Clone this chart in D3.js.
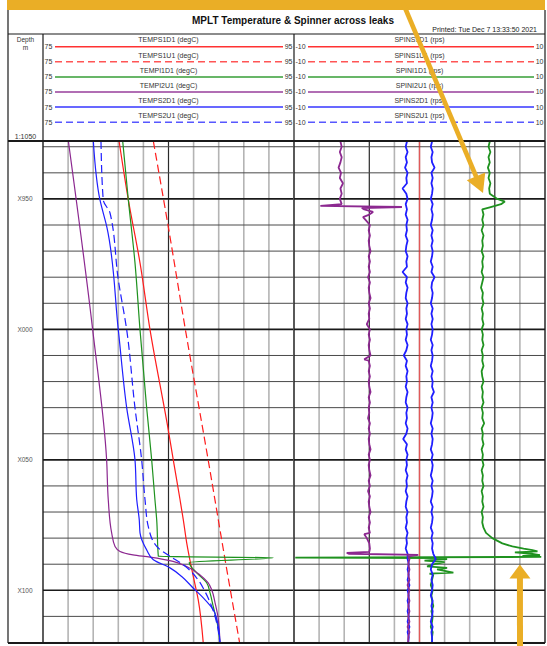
<!DOCTYPE html>
<html>
<head>
<meta charset="utf-8">
<script src="https://cdn.jsdelivr.net/npm/d3@7"></script>
<style>
  body { margin: 0; background: #fff; }
  svg { display: block; font-family: "Liberation Sans", Arial, sans-serif; }
</style>
</head>
<body>
<svg id="chart" width="547" height="646"></svg>
<script>
// ---- values ----
const depthTop = 1927.8;
const depthBottom = 2120.2;
const depthGrid = d3.range(1930, 2121, 10);
const depthLabelValues = [1950, 2000, 2050, 2100];
const depthLabelText = ['X950', 'X000', 'X050', 'X100'];

const tempRange = [75, 95];
const spinRange = [-10, 10];

const tempNames = ['TEMPS1D1', 'TEMPS1U1', 'TEMPI1D1', 'TEMPI2U1', 'TEMPS2D1', 'TEMPS2U1'];
const spinNames = ['SPINS1D1', 'SPINS1U1', 'SPINI1D1', 'SPINI2U1', 'SPINS2D1', 'SPINS2U1'];

// temperature, [depth m, degC]
const tempS1D1 = [[1927.8, 81.06], [1950.4, 81.8], [1974.5, 82.73], [2000.2, 83.53], [2038.5, 84.98],
  [2050, 85.38], [2065.3, 85.92], [2073, 86.18], [2081.8, 86.45], [2094.8, 86.98], [2103.7, 87.37], [2120.2, 87.77]];
const tempS1U1 = [[1927.8, 83.79], [1960.6, 84.98], [2000.2, 86.35], [2050, 88.16], [2090, 89.57], [2120.2, 90.67]];
const tempI1D1 = [[1927.8, 81.35], [1950.4, 81.8], [1974.5, 82.33], [2000.2, 82.73], [2030.1, 83.26], [2050, 83.66],
  [2065.3, 83.92], [2073, 84.06], [2087.0, 84.19], [2087.5, 93.33], [2089.3, 86.65], [2093.3, 87.25],
  [2097.1, 88.04], [2101.0, 88.31], [2106.3, 88.57], [2114.0, 88.94], [2120.2, 89.1]];
const tempI2U1 = [[1927.8, 77.02], [2000.2, 78.96], [2050, 80.07], [2065.3, 80.2], [2078.0, 80.47], [2083.2, 80.74],
  [2085.1, 81.14], [2086.4, 82.17], [2087.3, 83.53], [2088.9, 85.36], [2090.9, 86.45], [2094.1, 87.51],
  [2097.1, 88.15], [2099.8, 88.44], [2104.8, 88.71], [2110.1, 88.94], [2120.2, 89.1]];
const tempS2D1 = [[1927.8, 79.01], [1950.4, 79.54], [1960.6, 80.08], [2000.2, 81.0], [2030.1, 81.67], [2050, 82.33],
  [2065.3, 82.47], [2073, 82.67], [2078, 82.73], [2084.5, 83.26], [2088.3, 83.79], [2091.4, 85.12],
  [2094.7, 86.05], [2099.2, 86.98], [2102.9, 87.77], [2107.5, 88.57], [2113.9, 88.97], [2120.2, 89.1]];
const tempS2U1 = [[1927.8, 79.62], [1950.4, 79.8], [1955.4, 80.34], [1981, 81.0], [2000.2, 81.67], [2030.1, 82.33],
  [2050, 82.86], [2065.3, 83.13], [2075.6, 83.39], [2083.2, 84.06], [2087, 85.12], [2090.2, 86.18],
  [2095.3, 87.25], [2100.5, 87.91], [2106.2, 88.44], [2112.5, 88.84], [2120.2, 89.1]];

// spinner, rps sampled every 2 m from 1928 m, plus extra points where it spikes
const spinDepths = d3.range(1928, 2121, 2);
const spinS1D1 = [[1927.8, 0], [2120.2, 0]];
const spinI1D1Values = [
  5.6, 5.5, 5.65, 5.5, 5.6, 5.45, 5.6, 5.5, 5.65, 5.55,
  5.6, 6.2, 6.5, 5.0, 5.1, 5.0, 5.1, 4.95, 5.1, 5.0,
  5.05, 4.95, 5.1, 5.0, 5.05, 4.95, 5.1, 5.0, 4.9, 5.05,
  5.0, 5.1, 4.95, 5.05, 5.0, 5.1, 4.95, 5.05, 5.0, 5.1,
  4.95, 5.05, 5.0, 5.1, 4.95, 5.0, 5.1, 4.95, 5.05, 5.0,
  5.1, 4.95, 5.05, 5.0, 5.15, 4.95, 5.05, 5.0, 5.1, 4.95,
  5.05, 5.0, 5.1, 4.95, 5.05, 5.0, 5.1, 4.95, 5.05, 5.0,
  5.1, 4.95, 5.05, 5.0, 5.1, 5.3, 5.8, 6.6, 8.3, 9.0,
  2.2, 1.2, 1.4, 1.1, 1.0, 0.9, 1.05, 0.95, 1.0, 1.1,
  0.95, 1.05, 1.0, 0.9, 1.05, 1.0, 1.0];
const spinI1D1Spikes = [[1951, 6.8], [1953.2, 5.6], [2083.2, 7.4], [2084.6, 9.0], [2085.1, 9.4], [2085.5, 7.6],
  [2086.5, 9.6], [2086.8, 8.2], [2087.2, 9.7], [2087.45, -9.9], [2087.7, 1.0], [2088.6, 0.4], [2089.2, 2.0],
  [2090.8, 0.6], [2091.4, 2.2], [2093.2, 2.7], [2093.6, 0.8]];
const spinI2U1Values = [
  -6.3, -6.2, -6.35, -6.2, -6.3, -6.45, -6.25, -6.35, -6.1, -6.3,
  -6.2, -6.35, -6.2, -4.4, -4.0, -4.3, -3.95, -4.05, -3.95, -4.05,
  -4.0, -3.9, -4.05, -3.95, -4.05, -3.95, -4.1, -3.95, -4.05, -4.0,
  -3.9, -4.05, -3.95, -4.05, -4.0, -4.2, -3.95, -4.05, -3.95, -4.05,
  -4.0, -3.9, -4.05, -3.95, -4.05, -3.95, -4.05, -4.0, -3.9, -4.05,
  -3.95, -4.05, -4.0, -4.1, -3.95, -4.05, -3.95, -4.05, -4.0, -3.9,
  -4.05, -3.95, -4.05, -4.0, -3.9, -4.05, -3.95, -4.1, -3.95, -4.05,
  -4.0, -3.9, -4.05, -3.95, -4.05, -3.95, -4.2, -4.0, -3.95, -5.6,
  -0.8, -0.9, -0.8, -0.9, -0.8, -0.95, -0.8, -0.9, -0.8, -0.9,
  -0.8, -0.9, -0.8, -0.95, -0.8, -0.9, -0.9];
const spinI2U1Spikes = [[1952.7, -7.9], [1953.1, -1.4], [1953.5, -4.6], [1955, -3.7], [1957, -4.5],
  [2011.5, -4.4], [2078.5, -4.4], [2085.3, -4.0], [2085.7, -5.8], [2086.4, -0.1], [2087.0, -0.9]];
const spinS2D1Values = [
  -1.0, -1.1, -0.95, -1.1, -1.0, -1.15, -0.95, -1.05, -1.0, -1.35,
  -1.05, -0.95, -1.1, -1.0, -1.1, -0.95, -1.05, -1.0, -1.1, -0.95,
  -1.05, -1.1, -0.95, -1.05, -1.0, -1.35, -1.0, -1.1, -0.95, -1.05,
  -1.1, -0.95, -1.05, -1.0, -1.1, -0.95, -1.05, -1.0, -1.1, -0.95,
  -1.05, -1.25, -1.0, -1.1, -0.95, -1.05, -1.0, -1.1, -0.95, -1.05,
  -1.1, -0.95, -1.05, -1.0, -1.1, -0.95, -1.05, -1.3, -1.0, -1.1,
  -0.95, -1.05, -1.0, -1.1, -0.95, -1.05, -1.0, -1.1, -0.95, -1.05,
  -1.1, -0.95, -1.05, -1.0, -1.1, -0.95, -1.05, -1.0, -1.1, -0.95,
  -0.95, -0.85, -0.95, -0.85, -0.95, -0.8, -0.95, -0.85, -0.95, -0.85,
  -0.95, -0.85, -0.95, -0.8, -0.95, -0.85, -0.9];
const spinS2U1Values = [
  1.0, 0.9, 1.05, 0.95, 1.0, 1.2, 0.95, 1.05, 0.95, 1.05,
  1.0, 0.9, 1.05, 0.95, 1.05, 1.0, 0.9, 1.05, 0.95, 1.05,
  0.95, 1.05, 1.0, 0.9, 1.05, 0.95, 1.2, 1.0, 0.95, 1.05,
  1.0, 0.9, 1.05, 0.95, 1.05, 0.95, 1.05, 1.0, 0.9, 1.05,
  0.95, 1.05, 1.0, 0.9, 1.05, 0.95, 1.05, 1.0, 1.15, 0.95,
  1.05, 0.95, 1.05, 1.0, 0.9, 1.05, 0.95, 1.05, 1.0, 0.9,
  1.05, 0.95, 1.05, 1.0, 0.9, 1.05, 0.95, 1.05, 1.0, 0.9,
  1.05, 0.95, 1.05, 1.0, 0.9, 1.05, 0.95, 1.05, 1.0, 1.1,
  1.3, 1.0, 0.9, 1.05, 0.95, 1.05, 1.0, 0.9, 1.05, 0.95,
  1.05, 1.0, 0.9, 1.05, 0.95, 1.0, 1.0];

// ---- styles ----
const curveColors = ['#ff1c1c', '#ff1c1c', '#1f921f', '#8c2890', '#1f1fff', '#1f1fff'];
const curveDashed = [false, true, false, false, false, true];
const arrowColor = '#eaae26';

// ---- layout ----
const frame = { left: 8, right: 545, top: 10, bottom: 643 };
const titleBottom = 34;
const headerBottom = 141;
const depthColRight = 43;
const track1 = { left: 43, right: 294 };
const track2 = { left: 294, right: 545 };

const svg = d3.select('#chart');

const y = d3.scaleLinear().domain([depthTop, depthBottom]).range([headerBottom, frame.bottom]);
const xTemp = d3.scaleLinear().domain(tempRange).range([track1.left, track1.right]);
const xSpin = d3.scaleLinear().domain(spinRange).range([track2.left, track2.right]);

function spinSeries(values, spikes) {
  const pts = values.map((v, i) => [spinDepths[i], v]).concat(spikes || []);
  return pts.sort((a, b) => a[0] - b[0]);
}

const tempSeries = [tempS1D1, tempS1U1, tempI1D1, tempI2U1, tempS2D1, tempS2U1];
const spinAll = [
  spinS1D1,
  null,
  spinSeries(spinI1D1Values, spinI1D1Spikes),
  spinSeries(spinI2U1Values, spinI2U1Spikes),
  spinSeries(spinS2D1Values),
  spinSeries(spinS2U1Values),
];

// ---- grid ----
function drawGrid(track, xScale, darkTicks) {
  const g = svg.append('g');
  const ticks = d3.range(xScale.domain()[0], xScale.domain()[1] + 0.01, (xScale.domain()[1] - xScale.domain()[0]) / 10);
  g.selectAll('line.v')
    .data(ticks)
    .enter().append('line')
    .attr('x1', d => xScale(d)).attr('x2', d => xScale(d))
    .attr('y1', headerBottom).attr('y2', frame.bottom)
    .style('stroke', (d, i) => darkTicks.includes(i) ? '#2a2a2a' : '#b4b4b4')
    .style('stroke-width', (d, i) => darkTicks.includes(i) ? 1.2 : 1.6);
  g.selectAll('line.h')
    .data(depthGrid)
    .enter().append('line')
    .attr('x1', track.left).attr('x2', track.right)
    .attr('y1', d => y(d)).attr('y2', d => y(d))
    .style('stroke', d => d % 50 === 0 ? '#1a1a1a' : '#4a4a4a')
    .style('stroke-width', d => d % 50 === 0 ? 1.6 : 1);
}

drawGrid(track1, xTemp, [5]);
drawGrid(track2, xSpin, [3, 8]);

// ---- curves ----
const defs = svg.append('defs');
[track1, track2].forEach((t, i) => {
  defs.append('clipPath').attr('id', 'clip' + i)
    .append('rect')
    .attr('x', t.left).attr('y', headerBottom)
    .attr('width', t.right - t.left).attr('height', frame.bottom - headerBottom);
});

const tempLine = d3.line()
  .x(d => xTemp(d[1]))
  .y(d => y(d[0]))
  .curve(d3.curveMonotoneY);

svg.append('g').attr('clip-path', 'url(#clip0)')
  .selectAll('path')
  .data(tempSeries)
  .enter().append('path')
  .attr('d', tempLine)
  .style('fill', 'none')
  .style('stroke', (d, i) => curveColors[i])
  .style('stroke-width', 1.2)
  .style('stroke-dasharray', (d, i) => curveDashed[i] ? '8,4' : null);

const spinLine = d3.line()
  .x(d => xSpin(d[1]))
  .y(d => y(d[0]));

const spinOrder = [0, 2, 5, 4, 3];
svg.append('g').attr('clip-path', 'url(#clip1)')
  .selectAll('path')
  .data(spinOrder)
  .enter().append('path')
  .attr('d', i => spinLine(spinAll[i]))
  .style('fill', 'none')
  .style('stroke', i => curveColors[i])
  .style('stroke-opacity', i => i === 0 ? 0.6 : 1)
  .style('stroke-linejoin', 'bevel')
  .style('stroke-width', i => i === 0 ? 1.4 : 1.8);

// ---- frame ----
const frameG = svg.append('g').style('stroke', '#1a1a1a');
const frameLines = [
  [frame.left, frame.top, frame.left, frame.bottom, 1.2],
  [frame.right, frame.top, frame.right, frame.bottom, 1.2],
  [frame.left, titleBottom, frame.right, titleBottom, 1.2],
  [depthColRight, titleBottom, depthColRight, frame.bottom, 1.2],
  [track1.right, titleBottom, track1.right, frame.bottom, 1.2],
  [frame.left, headerBottom, frame.right, headerBottom, 1.8],
  [frame.left, frame.bottom, frame.right, frame.bottom, 2],
];
frameG.selectAll('line')
  .data(frameLines)
  .enter().append('line')
  .attr('x1', d => d[0]).attr('y1', d => d[1])
  .attr('x2', d => d[2]).attr('y2', d => d[3])
  .style('stroke-width', d => d[4]);

// ---- texts ----
svg.append('text')
  .attr('x', 293).attr('y', 23.5)
  .attr('text-anchor', 'middle')
  .style('font-size', '10px').style('font-weight', 'bold').style('fill', '#111')
  .text('MPLT Temperature & Spinner across leaks');

svg.append('text')
  .attr('x', 537).attr('y', 31.5)
  .attr('text-anchor', 'end')
  .style('font-size', '7px').style('fill', '#222')
  .text('Printed: Tue Dec 7 13:33:50 2021');

const smallText = (x, yy, txt, anchor, size) => svg.append('text')
  .attr('x', x).attr('y', yy)
  .attr('text-anchor', anchor)
  .style('font-size', (size || 6.5) + 'px').style('fill', '#333')
  .text(txt);

smallText(25.5, 42, 'Depth', 'middle');
smallText(25.5, 50, 'm', 'middle');
smallText(25.5, 138.5, '1:1050', 'middle', 7);

depthLabelValues.forEach((d, i) => smallText(25, y(d) + 2.3, depthLabelText[i], 'middle', 6.5).style('fill', '#555'));

// ---- header legend ----
const rowY = d3.scaleLinear().domain([0, 1]).range([46.7, 61.8]);

function drawLegend(track, names, unit, lo, hi) {
  const g = svg.append('g');
  names.forEach((name, i) => {
    const ly = rowY(i);
    const mid = (track.left + track.right) / 2;
    g.append('text').attr('x', mid).attr('y', ly - 4.3)
      .attr('text-anchor', 'middle')
      .style('font-size', '7px').style('fill', '#333')
      .text(name + ' (' + unit + ')');
    g.append('text').attr('x', track.left + 1.5).attr('y', ly + 2.4)
      .style('font-size', '7px').style('fill', '#333')
      .text(lo);
    g.append('text').attr('x', track.right - 1.5).attr('y', ly + 2.4)
      .attr('text-anchor', 'end')
      .style('font-size', '7px').style('fill', '#333')
      .text(hi);
    g.append('line')
      .attr('x1', track.left + (lo.length > 2 ? 14 : 12)).attr('x2', track.right - 11)
      .attr('y1', ly).attr('y2', ly)
      .style('stroke', curveColors[i])
      .style('stroke-opacity', curveDashed[i] ? 0.75 : 0.9)
      .style('stroke-width', 1.5)
      .style('stroke-dasharray', curveDashed[i] ? '7,4' : null);
  });
}

drawLegend(track1, tempNames, 'degC', String(tempRange[0]), String(tempRange[1]));
drawLegend(track2, spinNames, 'rps', String(spinRange[0]), String(spinRange[1]));

// ---- annotation arrows ----
const arrows = [
  { tip: [5.06, 1947.7], tail: [403, 3], head: 18, half: 10, width: 4.6 },
  { tip: [8.0, 2090.1], tail: [520, 646], head: 14, half: 10.5, width: 6 },
];

svg.append('rect')
  .attr('x', 7).attr('y', 0).attr('width', 538).attr('height', 10)
  .style('fill', arrowColor);

arrows.forEach(a => {
  const tx = xSpin(a.tip[0]), ty = y(a.tip[1]);
  const dx = tx - a.tail[0], dy = ty - a.tail[1];
  const len = Math.hypot(dx, dy);
  const ux = dx / len, uy = dy / len;
  const bx = tx - ux * a.head, by = ty - uy * a.head;
  svg.append('line')
    .attr('x1', a.tail[0]).attr('y1', a.tail[1])
    .attr('x2', bx + ux).attr('y2', by + uy)
    .style('stroke', arrowColor)
    .style('stroke-width', a.width);
  svg.append('path')
    .attr('d', `M${tx},${ty}L${bx - uy * a.half},${by + ux * a.half}L${bx + uy * a.half},${by - ux * a.half}Z`)
    .style('fill', arrowColor);
});
</script>
</body>
</html>
